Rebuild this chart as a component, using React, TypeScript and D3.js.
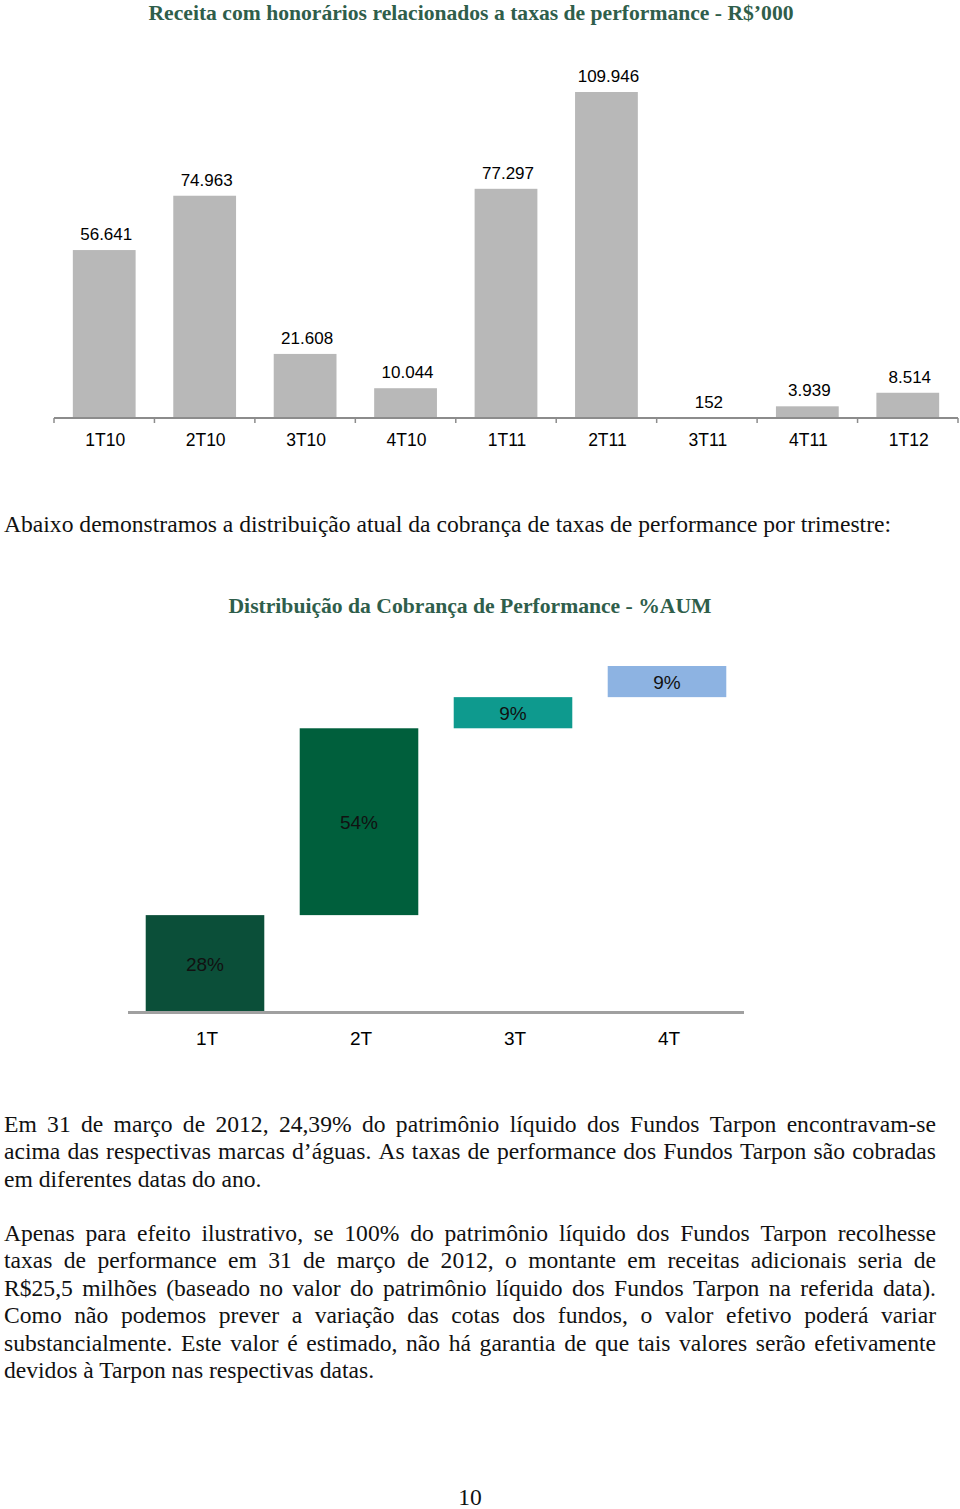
import React, { useEffect, useRef } from "react";
import * as d3 from "d3";

// receita com taxas de performance (R$'000)
const quarters = ["1T10", "2T10", "3T10", "4T10", "1T11", "2T11", "3T11", "4T11", "1T12"];
const revenue = [56641, 74963, 21608, 10044, 77297, 109946, 152, 3939, 8514];
const revenueLabels = ["56.641", "74.963", "21.608", "10.044", "77.297", "109.946", "152", "3.939", "8.514"];

// distribuição da cobrança (% AUM)
const periods = ["1T", "2T", "3T", "4T"];
const shares = [28, 54, 9, 9];
const shareLabels = ["28%", "54%", "9%", "9%"];
const shareColors = ["#0b4f39", "#005f3c", "#0e9a8e", "#8db3e2"];

const title1 = "Receita com honorários relacionados a taxas de performance - R$’000";
const title2 = "Distribuição da Cobrança de Performance - %AUM";
const intro = "Abaixo demonstramos a distribuição atual da cobrança de taxas de performance por trimestre:";

const para1 = [
  "Em 31 de março de 2012, 24,39% do patrimônio líquido dos Fundos Tarpon encontravam-se",
  "acima das respectivas marcas d’águas. As taxas de performance dos Fundos Tarpon são cobradas",
  "em diferentes datas do ano.",
];
const para2 = [
  "Apenas para efeito ilustrativo, se 100% do patrimônio líquido dos Fundos Tarpon recolhesse",
  "taxas de performance em 31 de março de 2012, o montante em receitas adicionais seria de",
  "R$25,5 milhões (baseado no valor do patrimônio líquido dos Fundos Tarpon na referida data).",
  "Como não podemos prever a variação das cotas dos fundos, o valor efetivo poderá variar",
  "substancialmente. Este valor é estimado, não há garantia de que tais valores serão efetivamente",
  "devidos à Tarpon nas respectivas datas.",
];

const W = 960;
const H = 1509;
const SERIF = "'Liberation Serif', 'Times New Roman', serif";
const SANS = "'Liberation Sans', Arial, Helvetica, sans-serif";
const GREEN = "#2f5e4b";

export default function App() {
  const ref = useRef<SVGSVGElement>(null);

  useEffect(() => {
    const svg = d3.select(ref.current);
    svg.selectAll("*").remove();

    // ---------- titles ----------
    svg.append("text")
      .attr("x", 471).attr("y", 20)
      .attr("text-anchor", "middle")
      .attr("font-family", SERIF).attr("font-weight", "bold")
      .attr("font-size", 21).attr("fill", GREEN)
      .attr("textLength", 645).attr("lengthAdjust", "spacingAndGlyphs")
      .text(title1);

    // ---------- chart 1 ----------
    const x1 = d3.scaleBand().domain(quarters).range([54, 958]).paddingInner(0.375).paddingOuter(0.1875);
    const y1 = d3.scaleLinear().domain([0, d3.max(revenue)!]).range([418, 92]);
    const g1 = svg.append("g");

    g1.selectAll("rect")
      .data(revenue)
      .join("rect")
      .attr("x", (d, i) => x1(quarters[i])!)
      .attr("width", x1.bandwidth())
      .attr("y", (d) => y1(d))
      .attr("height", (d) => Math.max(1.5, y1(0) - y1(d)))
      .attr("fill", "#b8b8b8");

    g1.selectAll("text.val")
      .data(revenue)
      .join("text")
      .attr("class", "val")
      .attr("x", (d, i) => x1(quarters[i])! + x1.bandwidth() / 2 + 2)
      .attr("y", (d) => y1(d) - 10)
      .attr("text-anchor", "middle")
      .attr("font-family", SANS).attr("font-size", 17)
      .text((d, i) => revenueLabels[i]);

    const step = x1.step();
    const edges = d3.range(quarters.length + 1).map((i) => 54 + i * step);
    g1.append("line")
      .attr("x1", 54).attr("x2", 958)
      .attr("y1", 418).attr("y2", 418)
      .attr("stroke", "#8c8c8c").attr("stroke-width", 1.8);
    g1.selectAll("line.tick")
      .data(edges)
      .join("line")
      .attr("class", "tick")
      .attr("x1", (d) => d).attr("x2", (d) => d)
      .attr("y1", 418).attr("y2", 423)
      .attr("stroke", "#8c8c8c").attr("stroke-width", 1.5);

    g1.selectAll("text.cat")
      .data(quarters)
      .join("text")
      .attr("class", "cat")
      .attr("x", (d) => x1(d)! + x1.bandwidth() / 2 + 1)
      .attr("y", 446)
      .attr("text-anchor", "middle")
      .attr("font-family", SANS).attr("font-size", 17.5)
      .text((d) => d);

    // ---------- text helpers ----------
    const bodySize = 23.6;
    const plainLine = (s: string, x: number, y: number) =>
      svg.append("text")
        .attr("x", x).attr("y", y)
        .attr("font-family", SERIF).attr("font-size", bodySize).attr("fill", "#111")
        .text(s);

    const justifiedLine = (s: string, x0: number, xEnd: number, y: number) => {
      const words = s.split(" ");
      const g = svg.append("g");
      const nodes = words.map((w) =>
        g.append("text")
          .attr("y", y)
          .attr("font-family", SERIF).attr("font-size", bodySize).attr("fill", "#111")
          .text(w)
      );
      const widths = nodes.map((n) => (n.node() as SVGTextElement).getComputedTextLength());
      const gap = (xEnd - x0 - d3.sum(widths)) / (words.length - 1);
      let cx = x0;
      nodes.forEach((n, i) => {
        n.attr("x", cx);
        cx += widths[i] + gap;
      });
    };

    const paragraph = (lines: string[], top: number) => {
      lines.forEach((l, i) => {
        const y = top + i * 27.4;
        if (i === lines.length - 1) plainLine(l, 4, y);
        else justifiedLine(l, 4, 936, y);
      });
    };

    plainLine(intro, 4, 532);

    svg.append("text")
      .attr("x", 470).attr("y", 613)
      .attr("text-anchor", "middle")
      .attr("font-family", SERIF).attr("font-weight", "bold")
      .attr("font-size", 21).attr("fill", GREEN)
      .attr("textLength", 483).attr("lengthAdjust", "spacingAndGlyphs")
      .text(title2);

    // ---------- chart 2 (waterfall) ----------
    const x2 = d3.scaleBand().domain(periods).range([128, 744]).paddingInner(0.23).paddingOuter(0.115);
    const y2 = d3.scaleLinear().domain([0, d3.sum(shares)]).range([1012, 666]);
    const starts = shares.map((d, i) => d3.sum(shares.slice(0, i)));
    const g2 = svg.append("g");

    g2.selectAll("rect")
      .data(shares)
      .join("rect")
      .attr("x", (d, i) => x2(periods[i])!)
      .attr("width", x2.bandwidth())
      .attr("y", (d, i) => y2(starts[i] + d))
      .attr("height", (d, i) => y2(starts[i]) - y2(starts[i] + d))
      .attr("fill", (d, i) => shareColors[i]);

    g2.selectAll("text.val")
      .data(shares)
      .join("text")
      .attr("class", "val")
      .attr("x", (d, i) => x2(periods[i])! + x2.bandwidth() / 2)
      .attr("y", (d, i) => y2(starts[i] + d / 2) + 7)
      .attr("text-anchor", "middle")
      .attr("font-family", SANS).attr("font-size", 19).attr("fill", "#111")
      .text((d, i) => shareLabels[i]);

    g2.append("line")
      .attr("x1", 128).attr("x2", 744)
      .attr("y1", 1012.5).attr("y2", 1012.5)
      .attr("stroke", "#a0a0a0").attr("stroke-width", 3);

    g2.selectAll("text.cat")
      .data(periods)
      .join("text")
      .attr("class", "cat")
      .attr("x", (d) => x2(d)! + x2.bandwidth() / 2 + 2)
      .attr("y", 1045)
      .attr("text-anchor", "middle")
      .attr("font-family", SANS).attr("font-size", 19)
      .text((d) => d);

    // ---------- body text ----------
    paragraph(para1, 1132);
    paragraph(para2, 1241);

    svg.append("text")
      .attr("x", 470).attr("y", 1505)
      .attr("text-anchor", "middle")
      .attr("font-family", SERIF).attr("font-size", bodySize).attr("fill", "#111")
      .text("10");
  }, []);

  return (
    <svg
      ref={ref}
      width={W}
      height={H}
      viewBox={`0 0 ${W} ${H}`}
      style={{ position: "absolute", left: 0, top: 0, background: "#fff" }}
    />
  );
}
